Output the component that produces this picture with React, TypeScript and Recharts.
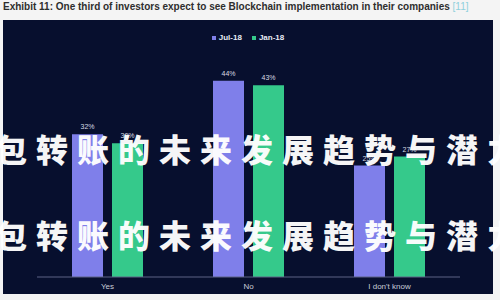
import React from "react";
import { BarChart, Bar, XAxis, YAxis, LabelList } from "recharts";

const categories = ["Yes", "No", "I don't know"];
const jul18 = [32, 44, 25];
const jan18 = [30, 43, 27];
const seriesNames = ["Jul-18", "Jan-18"];
const titleText = "Exhibit 11: One third of investors expect to see Blockchain implementation in their companies";
const titleRef = "[11]";
const watermark = "包转账的未来发展趋势与潜力";

const data = categories.map((c, i) => ({ name: c, jul: jul18[i], jan: jan18[i] }));

const BLUE = "#7f7fea";
const GREEN = "#35c98b";
const BG = "#070f2e";

const fmt = (v: any) => `${v}%`;

export default function App() {
  return (
    <div style={{ position: "absolute", left: 0, top: 0, width: 500, height: 300, background: "#f4f4f4", overflow: "hidden", fontFamily: "Liberation Sans, Arial, sans-serif" }}>
      <div style={{ position: "absolute", left: 3, top: 1, whiteSpace: "nowrap", fontSize: 10, fontWeight: 700, color: "#2e2e2e" }}>
        {titleText} <span style={{ color: "#8fd0dc", fontWeight: 400 }}>{titleRef}</span>
      </div>
      <div style={{ position: "absolute", left: 3, top: 20, width: 490, height: 274, background: BG }}>
        <div style={{ position: "absolute", left: 0, top: 13, width: 490, display: "flex", justifyContent: "center", gap: 10, fontSize: 8, fontWeight: 700, color: "#e8ecf4" }}>
          <span style={{ display: "flex", alignItems: "center" }}>
            <span style={{ width: 4, height: 4, background: BLUE, marginRight: 3 }} />{seriesNames[0]}
          </span>
          <span style={{ display: "flex", alignItems: "center" }}>
            <span style={{ width: 4, height: 4, background: GREEN, marginRight: 3 }} />{seriesNames[1]}
          </span>
        </div>
        <BarChart width={490} height={274} data={data} margin={{ top: 34, right: 33, left: 34, bottom: 0 }} barSize={31} barGap={9}>
          <YAxis hide domain={[0, 50]} />
          <XAxis dataKey="name" height={17} axisLine={{ stroke: "#5c6384" }} tickLine={false} tickSize={4} tick={{ fill: "#c9cdd8", fontSize: 8 }} />
          <Bar dataKey="jul" name={seriesNames[0]} fill={BLUE} isAnimationActive={false}>
            <LabelList dataKey="jul" position="top" offset={5} formatter={fmt} fill="#d8dbe4" fontSize={7} />
          </Bar>
          <Bar dataKey="jan" name={seriesNames[1]} fill={GREEN} isAnimationActive={false}>
            <LabelList dataKey="jan" position="top" offset={5} formatter={fmt} fill="#d8dbe4" fontSize={7} />
          </Bar>
        </BarChart>
      </div>
      {[148, 234].map((cy) => (
        <div key={cy} style={{ position: "absolute", left: -5, top: cy - 20, whiteSpace: "nowrap", fontFamily: "Noto Sans CJK SC", fontWeight: 900, fontSize: 32, lineHeight: "40px", letterSpacing: 9, color: "#ffffff", opacity: 0.96 }}>
          {watermark}
        </div>
      ))}
    </div>
  );
}
